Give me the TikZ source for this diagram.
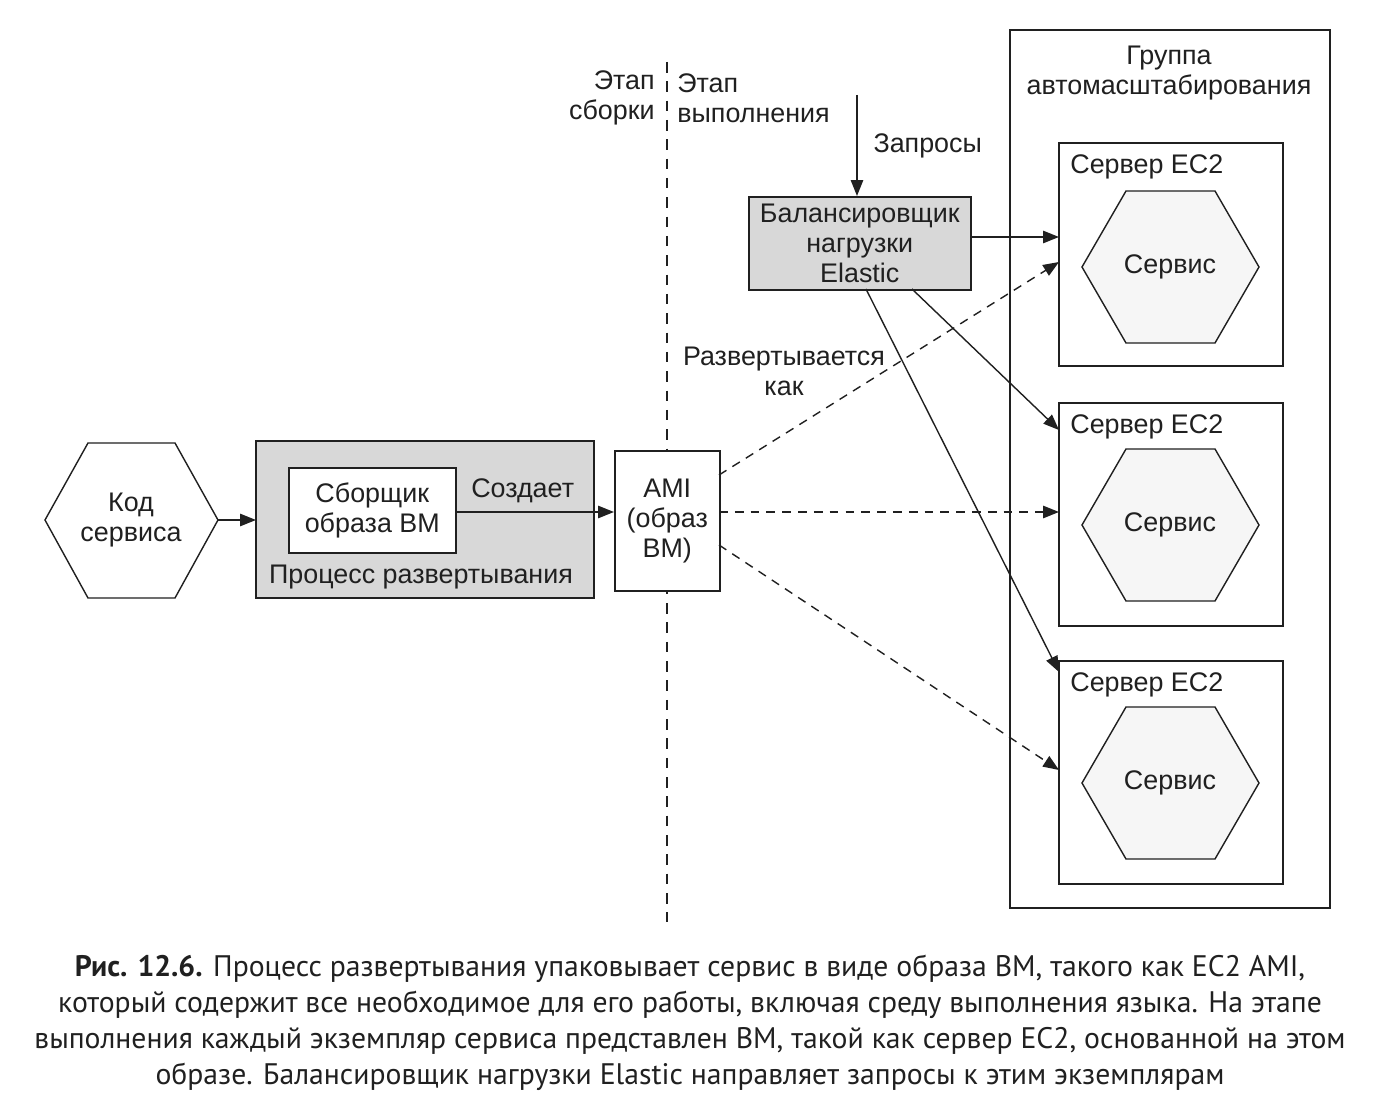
\documentclass[tikz,border=0pt]{standalone}
\usepackage{fontspec}
\setmainfont{Liberation Sans}
\newfontfamily\capfont{PT Sans}
\usetikzlibrary{arrows.meta,shapes.geometric}
\definecolor{ink}{HTML}{202020}
\definecolor{boxgray}{HTML}{D8D8D8}
\definecolor{hexgray}{HTML}{F6F6F6}
\tikzset{
  lbl/.style={font=\fontsize{15.3}{17.2}\selectfont, text=ink, align=center, inner sep=0pt},
  plainbox/.style={draw=ink, line width=0.9pt, fill=white},
  graybox/.style={draw=ink, line width=0.9pt, fill=boxgray},
  conn/.style={draw=ink, line width=0.8pt, -{Triangle[length=9pt,width=7pt]}},
  dconn/.style={conn, dash pattern=on 5pt off 4pt},
}
\begin{document}
\begin{tikzpicture}[x=0.02cm,y=-0.02cm]
\useasboundingbox (0,0) rectangle (1374,1118);
% phase divider
\draw[ink, line width=0.8pt, dash pattern=on 6pt off 5pt] (667,62) -- (667,922);
\node[lbl, anchor=east, align=right] (build) at (655,98) {Этап\\сборки};
\node[lbl, anchor=west, align=left] (run) at (677,98) {Этап\\выполнения};
% autoscaling group
\draw[plainbox] (1010,30) rectangle (1330,908);
\node[lbl] (grp) at (1169,73) {Группа\\автомасштабирования};
% servers
\foreach \i/\t/\c in {1/143/267, 2/403/525, 3/661/783}{
  \draw[plainbox] (1059,\t) rectangle (1283,\t+223);
  \coordinate (srv\i) at (1059,\t);
  \node[lbl, anchor=west] (srvlbl\i) at (1070,\t+24) {Сервер EC2};
  \draw[ink, line width=0.8pt, fill=hexgray] (1082,\c) -- (1126,\c-76) -- (1215,\c-76) -- (1259,\c) -- (1215,\c+76) -- (1126,\c+76) -- cycle;
  \node[lbl] (svc\i) at (1170,\c) {Сервис};
}
% code hexagon
\draw[ink, line width=0.8pt, fill=white] (45,520) -- (88,443) -- (175,443) -- (218,520) -- (175,598) -- (88,598) -- cycle;
\coordinate (codeR) at (218,520);
\node[lbl] (code) at (131,520) {Код\\сервиса};
% deployment pipeline
\draw[graybox] (256,441) rectangle (594,598);
\coordinate (pipeL) at (256,520);
\node[lbl] (pipe) at (421,577) {Процесс развертывания};
\node[plainbox, minimum width=167*0.02cm, minimum height=85*0.02cm, anchor=north west, lbl, draw=ink, line width=0.9pt, fill=white] (builder) at (288,467) {Сборщик\\образа ВМ};
% AMI
\node[plainbox, minimum width=105*0.02cm, minimum height=140*0.02cm, anchor=north west, lbl, draw=ink, line width=0.9pt] (ami) at (614,450) {AMI\\(образ\\ВМ)};
% load balancer
\node[graybox, minimum width=222*0.02cm, minimum height=93*0.02cm, anchor=north west, lbl, draw=ink, line width=0.9pt] (lb) at (748,196) {Балансировщик\\нагрузки\\Elastic};
\coordinate (req) at (857,95);
% connectors
\draw[conn] (codeR) -- (pipeL);
\draw[conn] (builder.east |- 0,512) -- node[lbl, pos=0.42, above=5pt] (creates) {Создает} (ami.west |- 0,512);
\draw[conn] (req) -- node[lbl, right=9pt] (reqlbl) {Запросы} (lb.north -| req);
\draw[conn] (lb.east |- 0,237) -- (srv1 |- 0,237);
\draw[conn] (912,289) -- (srv2 |- 0,430);
\draw[conn] (866,289) -- (srv3 |- 0,672);
\draw[dconn] (719,475) -- (srv1 |- 0,262);
\draw[dconn] (719,512) -- (srv2 |- 0,512);
\draw[dconn] (719,545) -- (srv3 |- 0,770);
\node[lbl] (deploys) at (784,371) {Развертывается\\как};
% caption
\node[font=\capfont\fontsize{16.9}{20.5}\selectfont, text=ink, align=center, inner sep=0pt] (caption) at (690,1023) {\textbf{Рис. 12.6.} Процесс развертывания упаковывает сервис в виде образа ВМ, такого как EC2 AMI,\\который содержит все необходимое для его работы, включая среду выполнения языка. На этапе\\выполнения каждый экземпляр сервиса представлен ВМ, такой как сервер EC2, основанной на этом\\образе. Балансировщик нагрузки Elastic направляет запросы к этим экземплярам};
\end{tikzpicture}
\end{document}
